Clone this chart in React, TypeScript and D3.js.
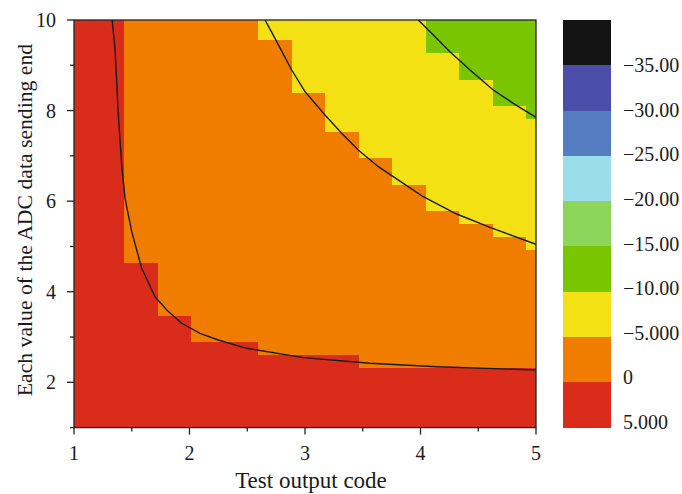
import React from 'react'
import * as d3 from 'd3'

// cell centres of the gridded map (test output code / ADC value)
const columnX = [1, 1.29, 1.58, 1.87, 2.16, 2.45, 2.74, 3.03, 3.32, 3.61, 3.9, 4.19, 4.48, 4.77, 5.06]
const rowY = [1, 1.29, 1.58, 1.87, 2.16, 2.45, 2.74, 3.03, 3.32, 3.61, 3.9, 4.19, 4.48, 4.77, 5.06, 5.35,
  5.64, 5.93, 6.22, 6.51, 6.8, 7.09, 7.38, 7.67, 7.96, 8.25, 8.54, 8.83, 9.12, 9.41, 9.7, 9.99]

// per column: how many rows (from the bottom) are in each band
const redRows = [32, 32, 13, 9, 7, 7, 6, 6, 6, 5, 5, 5, 5, 5, 5]
const yellowFromRow = [99, 99, 99, 99, 99, 99, 30, 26, 23, 21, 19, 17, 16, 15, 14]
const greenFromRow = [99, 99, 99, 99, 99, 99, 99, 99, 99, 99, 99, 29, 27, 25, 24]

// band values (middle of each colour class)
const RED_VAL = 2.5, ORANGE_VAL = -2.5, YELLOW_VAL = -7.5, GREEN_VAL = -12.5

// contour lines
const contour0 = [[1.33, 10], [1.355, 9.375], [1.384, 7.902], [1.413, 6.798], [1.442, 6.063], [1.5, 5.326],
  [1.586, 4.518], [1.701, 3.891], [1.803, 3.597], [1.932, 3.304], [2.091, 3.082], [2.249, 2.934],
  [2.495, 2.751], [2.985, 2.544], [3.563, 2.42], [4.14, 2.345], [5, 2.272]]
const contour1 = [[2.654, 10], [2.74, 9.596], [2.885, 8.896], [3.0, 8.417], [3.173, 7.902], [3.318, 7.498],
  [3.461, 7.13], [3.635, 6.761], [3.851, 6.394], [4.024, 6.098], [4.313, 5.716], [4.602, 5.423], [5, 5.047]]
const contour2 = [[3.981, 10], [4.111, 9.669], [4.255, 9.3], [4.429, 8.896], [4.63, 8.454], [4.803, 8.161], [5, 7.852]]

// colour bar
const levels = [5, 0, -5, -10, -15, -20, -25, -30, -35, -40]
const levelColors = ['#141414', '#4a4ea9', '#547cc0', '#9adeea', '#8bd659', '#78c500', '#f4e114', '#f07c00', '#da2c1b']
const barLabels = [5, 0, -5, -10, -15, -20, -25, -30, -35]

const FONT = '"Liberation Serif", "Times New Roman", serif'

export default function App() {
  const W = 682, H = 494
  const L = 74, R = 536, T = 20, B = 427.6

  const x = d3.scaleLinear().domain([1, 5]).range([L, R])
  const y = d3.scaleLinear().domain([1, 10]).range([B, T])

  const color = d3.scaleThreshold<number, string>()
    .domain([-35, -30, -25, -20, -15, -10, -5, 0])
    .range(levelColors)

  const cells: { cx: number, cy: number, v: number }[] = []
  columnX.forEach((cx, i) => {
    rowY.forEach((cy, j) => {
      let v = ORANGE_VAL
      if (j < redRows[i]) v = RED_VAL
      if (j >= yellowFromRow[i]) v = YELLOW_VAL
      if (j >= greenFromRow[i]) v = GREEN_VAL
      cells.push({ cx, cy, v })
    })
  })
  const halfX = (columnX[1] - columnX[0]) / 2
  const halfY = (rowY[1] - rowY[0]) / 2

  const line = d3.line<number[]>().x(d => x(d[0])).y(d => y(d[1]))

  const bar = d3.scaleLinear().domain([5, -40]).range([B, T])
  const barLab = d3.scaleLinear().domain([5, -35]).range([422, 65])
  const fmt = (v: number) => v === 0 ? '0' : d3.format('.4g')(v)

  const xMajor = x.ticks(5)
  const xMinor = x.ticks(10).filter(t => !xMajor.includes(t))
  const yMajor = y.ticks(5)
  const yMinor = y.ticks(10).filter(t => !yMajor.includes(t))

  const BX = 563, BW = 48

  return (
    <svg width={W} height={H} style={{ position: 'absolute', left: 0, top: 0, background: '#fff' }}
      fontFamily={FONT} fontSize={20} fill="#1a1a1a">
      <defs>
        <clipPath id="plot"><rect x={L} y={T} width={R - L} height={B - T} /></clipPath>
      </defs>
      <g clipPath="url(#plot)">
        {cells.map((c, k) => (
          <rect key={k} x={x(c.cx - halfX)} y={y(c.cy + halfY)}
            width={x(c.cx + halfX) - x(c.cx - halfX)} height={y(c.cy - halfY) - y(c.cy + halfY)}
            fill={color(c.v)} shapeRendering="crispEdges" />
        ))}
        {[contour0, contour1, contour2].map((c, k) => (
          <path key={k} d={line(c) || ''} fill="none" stroke="#1a1a1a" strokeWidth={1.4} />
        ))}
      </g>
      <rect x={L} y={T} width={R - L} height={B - T} fill="none" stroke="#222" strokeWidth={1.3} />

      {xMajor.map(t => (
        <g key={'xm' + t}>
          <line x1={x(t)} x2={x(t)} y1={B} y2={B + 7} stroke="#222" strokeWidth={1.3} />
          <text x={x(t)} y={460} textAnchor="middle">{t}</text>
        </g>
      ))}
      {xMinor.map(t => (
        <line key={'xn' + t} x1={x(t)} x2={x(t)} y1={B} y2={B + 4} stroke="#222" strokeWidth={1.3} />
      ))}
      {yMajor.map(t => (
        <g key={'ym' + t}>
          <line x1={L - 7} x2={L} y1={y(t)} y2={y(t)} stroke="#222" strokeWidth={1.3} />
          <text x={56} y={y(t)} dy="0.35em" textAnchor="end">{t}</text>
        </g>
      ))}
      {yMinor.map(t => (
        <line key={'yn' + t} x1={L - 4} x2={L} y1={y(t)} y2={y(t)} stroke="#222" strokeWidth={1.3} />
      ))}

      <text x={311} y={488} textAnchor="middle" fontSize={23}>Test output code</text>
      <text transform="translate(32,220) rotate(-90)" textAnchor="middle" fontSize={21.7}>Each value of the ADC data sending end</text>

      {levels.slice(0, -1).map((lo, k) => (
        <rect key={'b' + k} x={BX} width={BW} y={bar(levels[k + 1])} height={bar(lo) - bar(levels[k + 1])}
          fill={color((lo + levels[k + 1]) / 2)} shapeRendering="crispEdges" />
      ))}
      {barLabels.map(v => (
        <text key={'bl' + v} x={623} y={barLab(v)} dy="0.35em">{fmt(v)}</text>
      ))}
    </svg>
  )
}
